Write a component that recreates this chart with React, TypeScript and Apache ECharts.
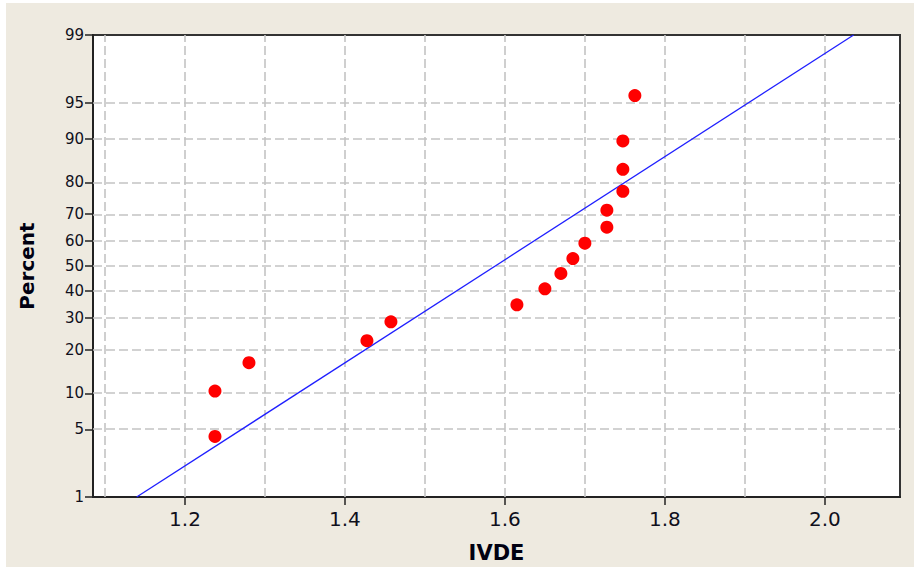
import React, { useEffect, useRef } from "react";
import * as echarts from "echarts";

const ivde = [1.2375, 1.2375, 1.28, 1.4275, 1.4575, 1.615, 1.65, 1.67, 1.685, 1.7, 1.7275, 1.7275, 1.7475, 1.7475, 1.7475, 1.7625];
const percents = [4.3, 10.4, 16.5, 22.6, 28.7, 34.8, 40.9, 47.0, 53.0, 59.1, 65.2, 71.3, 77.4, 83.5, 89.6, 95.7];

// Fitted line endpoints
const fitX = [1.1396, 2.036];
const fitPct = [1, 99];

// Axis ticks
const percentTicks = [1, 5, 10, 20, 30, 40, 50, 60, 70, 80, 90, 95, 99];
const xTickLabels = [1.2, 1.4, 1.6, 1.8, 2.0];
const xGridValues = [1.1, 1.2, 1.3, 1.4, 1.5, 1.6, 1.7, 1.8, 1.9, 2.0];
const xRange = [1.085, 2.094];

// Inverse normal CDF (Acklam) — probability-scale transform
function normInv(p: number): number {
  const a = [-3.969683028665376e1, 2.209460984245205e2, -2.759285104469687e2, 1.38357751867269e2, -3.066479806614716e1, 2.506628277459239];
  const b = [-5.447609879822406e1, 1.615858368580409e2, -1.556989798598866e2, 6.680131188771972e1, -1.328068155288572e1];
  const c = [-7.784894002430293e-3, -3.223964580411365e-1, -2.400758277161838, -2.549732539343734, 4.374664141464968, 2.938163982698783];
  const d = [7.784695709041462e-3, 3.224671290700398e-1, 2.445134137142996, 3.754408661907416];
  const pl = 0.02425;
  if (p < pl) {
    const q = Math.sqrt(-2 * Math.log(p));
    return (((((c[0] * q + c[1]) * q + c[2]) * q + c[3]) * q + c[4]) * q + c[5]) / ((((d[0] * q + d[1]) * q + d[2]) * q + d[3]) * q + 1);
  }
  if (p > 1 - pl) {
    const q = Math.sqrt(-2 * Math.log(1 - p));
    return -(((((c[0] * q + c[1]) * q + c[2]) * q + c[3]) * q + c[4]) * q + c[5]) / ((((d[0] * q + d[1]) * q + d[2]) * q + d[3]) * q + 1);
  }
  const q = p - 0.5;
  const r = q * q;
  return ((((((a[0] * r + a[1]) * r + a[2]) * r + a[3]) * r + a[4]) * r + a[5]) * q) / (((((b[0] * r + b[1]) * r + b[2]) * r + b[3]) * r + b[4]) * r + 1);
}
const z = (pct: number) => normInv(pct / 100);

export default function App() {
  const ref = useRef<HTMLDivElement>(null);
  useEffect(() => {
    if (!ref.current) return;
    const chart = echarts.init(ref.current, null, { renderer: "svg" });
    const yTicks = percentTicks.map(z);
    const yMin = z(percentTicks[0]);
    const yMax = z(percentTicks[percentTicks.length - 1]);
    const gridStyle = { color: "#c4c4c4", width: 1.6, type: [9, 4] as any };
    const font = "DejaVu Sans";
    chart.setOption({
      animation: false,
      backgroundColor: "#ffffff",
      graphic: [
        { type: "rect", z: -10, shape: { x: 6, y: 3, width: 908, height: 564 }, style: { fill: "#eeeae0" }, silent: true },
      ],
      grid: { left: 93, right: 14, top: 35, bottom: 72, show: true, backgroundColor: "#ffffff", borderColor: "#333333", borderWidth: 2 },
      xAxis: {
        type: "value",
        min: xRange[0],
        max: xRange[1],
        name: "IVDE",
        nameLocation: "middle",
        nameGap: 45,
        nameTextStyle: { fontFamily: font, fontWeight: "bold", fontSize: 21, color: "#000011" },
        axisLine: { show: true, onZero: false, lineStyle: { color: "#222222", width: 2 } },
        axisTick: { show: true, length: 8, customValues: xTickLabels, lineStyle: { color: "#222222", width: 1.5 } },
        axisLabel: { customValues: xTickLabels, formatter: (v: number) => v.toFixed(1), fontFamily: font, fontSize: 20, color: "#10101c", margin: 12 },
        splitLine: { show: false },
      },
      yAxis: {
        type: "value",
        min: yMin,
        max: yMax,
        name: "Percent",
        nameLocation: "middle",
        nameGap: 56,
        nameRotate: 90,
        nameTextStyle: { fontFamily: font, fontWeight: "bold", fontSize: 20, color: "#000011" },
        axisLine: { show: true, onZero: false, lineStyle: { color: "#222222", width: 2 } },
        axisTick: { show: true, length: 8, customValues: yTicks, lineStyle: { color: "#222222", width: 1.5 } },
        axisLabel: {
          customValues: yTicks,
          formatter: (v: number) => {
            let best = percentTicks[0];
            let bd = Infinity;
            percentTicks.forEach((p) => {
              const dd = Math.abs(z(p) - v);
              if (dd < bd) { bd = dd; best = p; }
            });
            return String(best);
          },
          fontFamily: font,
          fontSize: 15,
          color: "#10101c",
          margin: 9,
        },
        splitLine: { show: false },
      },
      series: [
        {
          type: "line",
          data: [],
          silent: true,
          z: 1,
          markLine: {
            silent: true,
            z: 1,
            symbol: "none",
            label: { show: false },
            lineStyle: gridStyle,
            emphasis: { disabled: true },
            data: [
              ...xGridValues.map((v) => ({ xAxis: v })),
              ...percentTicks.slice(1, -1).map((p) => ({ yAxis: z(p) })),
            ],
          },
        },
        {
          type: "line",
          data: fitX.map((x, i) => [x, z(fitPct[i])]),
          showSymbol: false,
          symbol: "none",
          lineStyle: { color: "#1f1fff", width: 1.3 },
          z: 3,
        },
        {
          type: "scatter",
          data: ivde.map((x, i) => [x, z(percents[i])]),
          symbolSize: 13,
          itemStyle: { color: "#ff0000", opacity: 1, borderWidth: 0 },
          emphasis: { disabled: true },
          z: 5,
        },
      ],
    });
    return () => chart.dispose();
  }, []);
  return (
    <div style={{ position: "fixed", left: 0, top: 0, width: 914, height: 569, background: "#ffffff" }}>
      <div ref={ref} style={{ width: 914, height: 569 }} />
    </div>
  );
}
